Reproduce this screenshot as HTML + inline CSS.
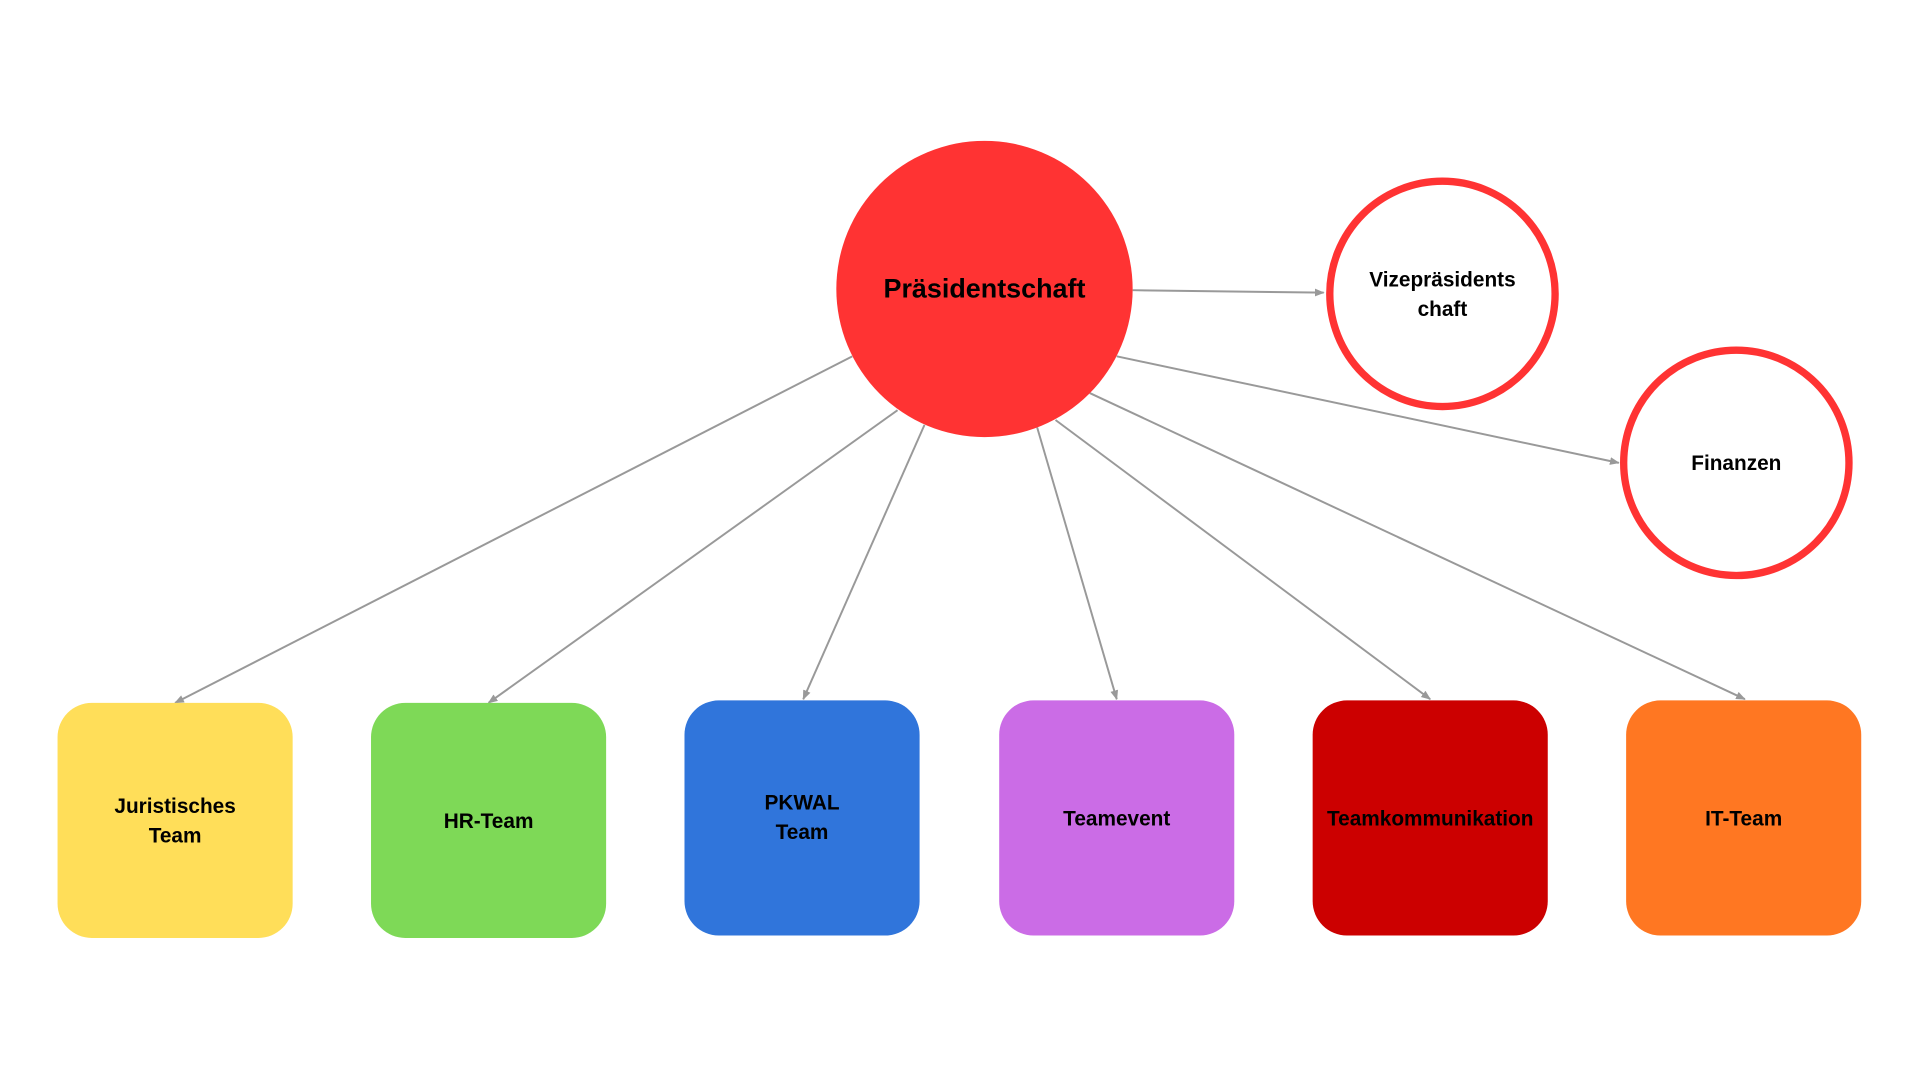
<!DOCTYPE html>
<html><head><meta charset="utf-8"><style>
html,body{margin:0;padding:0;background:#fff;}
svg{display:block;}
text{font-family:"Liberation Sans",sans-serif;font-weight:bold;fill:#000;text-anchor:middle;}
</style></head><body>
<svg width="1920" height="1080" viewBox="0 0 1568 882" xmlns="http://www.w3.org/2000/svg">
<defs>
<marker id="a" viewBox="0 0 10 10" refX="9" refY="5" markerWidth="5" markerHeight="5" orient="auto">
<path d="M0,1 L10,5 L0,9 z" fill="#999"/></marker>
</defs>
<g stroke="#999" stroke-width="1.6" fill="none" marker-end="url(#a)">
<line x1="696" y1="291" x2="143" y2="574"/>
<line x1="733" y1="335" x2="399" y2="574"/>
<line x1="755" y1="347" x2="656" y2="571"/>
<line x1="847" y1="349" x2="912" y2="571"/>
<line x1="862" y1="343" x2="1168" y2="571"/>
<line x1="890" y1="321" x2="1425" y2="571"/>
<line x1="925" y1="237" x2="1081" y2="239"/>
<line x1="912" y1="291" x2="1322" y2="378"/>
</g>
<circle cx="804" cy="236" r="121" fill="#FF3333"/>
<text x="804" y="243" font-size="22">Präsidentschaft</text>
<circle cx="1178" cy="240" r="92" fill="#fff" stroke="#FF3333" stroke-width="6"/>
<text x="1178" y="234" font-size="17">Vizepräsidents</text>
<text x="1178" y="258" font-size="17">chaft</text>
<circle cx="1418" cy="378" r="92" fill="#fff" stroke="#FF3333" stroke-width="6"/>
<text x="1418" y="384" font-size="17">Finanzen</text>
<rect x="47" y="574" width="192" height="192" rx="28" fill="#FFDE59"/>
<text x="143" y="664" font-size="17">Juristisches</text>
<text x="143" y="688" font-size="17">Team</text>
<rect x="303" y="574" width="192" height="192" rx="28" fill="#7ED957"/>
<text x="399" y="676" font-size="17">HR-Team</text>
<rect x="559" y="572" width="192" height="192" rx="28" fill="#3075DB"/>
<text x="655" y="661" font-size="17">PKWAL</text>
<text x="655" y="685" font-size="17">Team</text>
<rect x="816" y="572" width="192" height="192" rx="28" fill="#CB6CE6"/>
<text x="912" y="674" font-size="17">Teamevent</text>
<rect x="1072" y="572" width="192" height="192" rx="28" fill="#CC0000"/>
<text x="1168" y="674" font-size="17">Teamkommunikation</text>
<rect x="1328" y="572" width="192" height="192" rx="28" fill="#FF7722"/>
<text x="1424" y="674" font-size="17">IT-Team</text>
</svg>
</body></html>
